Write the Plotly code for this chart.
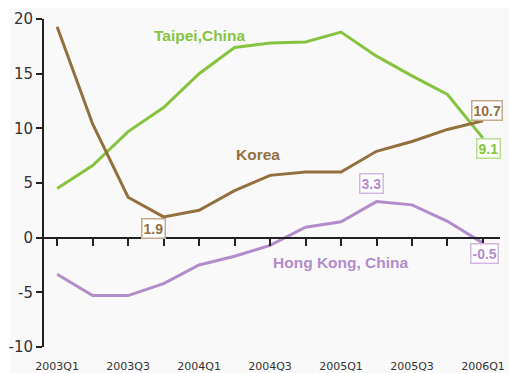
import plotly.graph_objects as go

quarters = ["2003Q1", "2003Q2", "2003Q3", "2003Q4", "2004Q1", "2004Q2", "2004Q3",
            "2004Q4", "2005Q1", "2005Q2", "2005Q3", "2005Q4", "2006Q1"]
taipei = [4.5, 6.6, 9.7, 11.9, 15.0, 17.4, 17.8, 17.9, 18.8, 16.6, 14.8, 13.1, 9.1]
korea = [19.3, 10.4, 3.7, 1.9, 2.5, 4.3, 5.7, 6.0, 6.0, 7.9, 8.8, 9.9, 10.7]
hongkong = [-3.35, -5.3, -5.3, -4.2, -2.5, -1.7, -0.7, 0.95, 1.45, 3.3, 3.0, 1.5, -0.5]
tick_labels = ["2003Q1", "", "2003Q3", "", "2004Q1", "", "2004Q3", "", "2005Q1", "",
               "2005Q3", "", "2006Q1"]
y_ticks = [-10, -5, 0, 5, 10, 15, 20]
y_labels = ["-10", "-5", "0", "5", "10", "15", "20"]

GREEN = "#86c440"
BROWN = "#93703f"
PURPLE = "#b38ccb"
GREEN_L = "#b9e08f"
BROWN_L = "#c2ab8c"
PURPLE_L = "#d2b8e0"

xs = list(range(len(quarters)))
xr = [-0.37, 12.48]

fig = go.Figure()
fig.add_trace(go.Scatter(x=xs, y=taipei, mode="lines", line=dict(color=GREEN, width=3),
                         hoverinfo="skip", showlegend=False))
fig.add_trace(go.Scatter(x=xs, y=korea, mode="lines", line=dict(color=BROWN, width=3),
                         hoverinfo="skip", showlegend=False))
fig.add_trace(go.Scatter(x=xs, y=hongkong, mode="lines", line=dict(color=PURPLE, width=3),
                         hoverinfo="skip", showlegend=False, xaxis="x2"))

fig.update_layout(
    width=509, height=373,
    margin=dict(l=44, r=9, t=19, b=26),
    paper_bgcolor="white",
    plot_bgcolor="rgba(0,0,0,0)",
    font=dict(family="DejaVu Sans", color="#333333"),
    xaxis=dict(range=xr, tickmode="array", tickvals=xs, ticktext=tick_labels,
               showgrid=False, zeroline=False, showline=False, ticks="", automargin=False,
               tickfont=dict(size=11, color="#333333"), ticklabelstandoff=11),
    xaxis2=dict(range=xr, overlaying="x", anchor="free", position=1/3,
                tickmode="array", tickvals=xs, showticklabels=False, automargin=False,
                showgrid=False, zeroline=False, showline=True, linecolor="#222222",
                linewidth=2, ticks="outside", ticklen=7, tickwidth=2, tickcolor="#222222"),
    yaxis=dict(range=[-10, 20], tickmode="array", tickvals=y_ticks, ticktext=y_labels,
               showgrid=False, zeroline=False, showline=True, linecolor="#222222",
               automargin=False,
               linewidth=2, ticks="outside", ticklen=6, tickwidth=2, tickcolor="#222222",
               tickfont=dict(size=15, color="#333333")),
    shapes=[dict(type="rect", xref="paper", yref="paper", x0=-0.0746, x1=1.03,
                 y0=-0.09, y1=1.0335, fillcolor="#f9f9f9", line=dict(width=0),
                 layer="below")],
)

lab_font = "Liberation Sans"
fig.add_annotation(x=4.0, y=18.5, text="<b>Taipei,China</b>", showarrow=False,
                   font=dict(family=lab_font, size=15.5, color=GREEN))
fig.add_annotation(x=5.66, y=7.57, text="<b>Korea</b>", showarrow=False,
                   font=dict(family=lab_font, size=15.5, color=BROWN))
fig.add_annotation(x=8.0, y=-2.3, text="<b>Hong Kong, China</b>", showarrow=False,
                   font=dict(family=lab_font, size=15.5, color=PURPLE))

def box(x, y, text, color, border, yanchor, xshift=0, yshift=0, xref="x"):
    fig.add_annotation(x=x, y=y, text="<b>%s</b>" % text, showarrow=False,
                       xref=xref, yanchor=yanchor, xshift=xshift, yshift=yshift,
                       font=dict(family=lab_font, size=14, color=color),
                       bgcolor="white", bordercolor=border, borderwidth=1.5, borderpad=1)

box(3, korea[3], korea[3], BROWN, BROWN_L, "top", xshift=-10, yshift=-1)
box(12, korea[12], korea[12], BROWN, BROWN_L, "bottom", xshift=4, yshift=0)
box(12, taipei[12], taipei[12], GREEN, GREEN_L, "top", xshift=6, yshift=0)
box(9, hongkong[9], hongkong[9], PURPLE, PURPLE_L, "bottom", xshift=-5, yshift=8)
box(12, hongkong[12], hongkong[12], PURPLE, PURPLE_L, "top", xshift=2, yshift=0)

fig.write_html("out.html")
